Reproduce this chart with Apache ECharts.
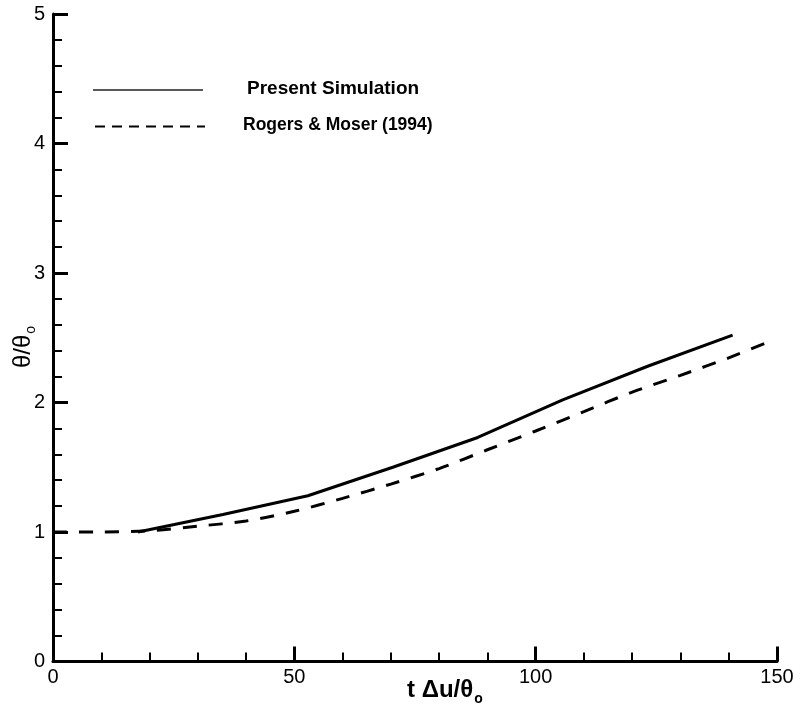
<!DOCTYPE html>
<html>
<head>
<meta charset="utf-8">
<script src="https://cdn.jsdelivr.net/npm/echarts@6/dist/echarts.min.js"></script>
<style>
html,body{margin:0;padding:0;background:#fff;}
#chart{width:800px;height:717px;}
</style>
</head>
<body>
<div id="chart"></div>
<script>
// Present Simulation
const tSim = [17.6, 35.2, 52.8, 70.4, 88.0, 105.6, 123.2, 140.8];
const simVals = [1.0, 1.135, 1.28, 1.50, 1.73, 2.02, 2.28, 2.52];
// Rogers & Moser (1994)
const tRM = [0, 10, 20, 30, 40, 50, 60, 70, 80, 90, 100, 110, 120, 130, 140, 149];
const rmVals = [1.0, 1.0, 1.01, 1.045, 1.085, 1.16, 1.26, 1.37, 1.49, 1.635, 1.78, 1.93, 2.08, 2.21, 2.345, 2.48];
const seriesNames = ['Present Simulation', 'Rogers & Moser (1994)'];
const xTitleMain = 't \u0394u/\u03b8';
const yTitleMain = '\u03b8/\u03b8';
const subText = 'o';

const FONT = 'Liberation Sans, Arial, Helvetica, sans-serif';
const measureCtx = document.createElement('canvas').getContext('2d');
function textWidth(txt, font) { measureCtx.font = font; return measureCtx.measureText(txt).width; }

const xFont = 'bold 24px ' + FONT;
const yFont = '24px ' + FONT;
const xMainW = textWidth(xTitleMain, xFont);
const yMainW = textWidth(yTitleMain, yFont);

const chart = echarts.init(document.getElementById('chart'), null, {renderer: 'canvas'});

const axisCommon = {
  axisLine: {show: true, onZero: false, lineStyle: {color: '#000', width: 3}},
  axisTick: {show: true, inside: true, length: 15, lineStyle: {color: '#000', width: 3}},
  minorTick: {show: true, splitNumber: 5, length: 9, lineStyle: {color: '#000', width: 2}},
  splitLine: {show: false},
  minorSplitLine: {show: false},
  axisLabel: {color: '#000', fontSize: 20, fontFamily: FONT}
};

chart.setOption({
  animation: false,
  backgroundColor: '#fff',
  grid: {left: 53, right: 23, top: 14, bottom: 55.5, containLabel: false},
  xAxis: Object.assign({}, axisCommon, {
    type: 'value', min: 0, max: 150, interval: 50,
    axisLabel: Object.assign({}, axisCommon.axisLabel, {margin: 6})
  }),
  yAxis: Object.assign({}, axisCommon, {
    type: 'value', min: 0, max: 5, interval: 1,
    axisLabel: Object.assign({}, axisCommon.axisLabel, {margin: 8})
  }),
  series: [
    {
      name: seriesNames[0], type: 'line', showSymbol: false, symbol: 'none',
      data: tSim.map((t, i) => [t, simVals[i]]),
      lineStyle: {color: '#000', width: 3}
    },
    {
      name: seriesNames[1], type: 'line', showSymbol: false, symbol: 'none', smooth: 0.3,
      data: tRM.map((t, i) => [t, rmVals[i]]),
      lineStyle: {color: '#000', width: 3, type: [14, 12]}
    }
  ],
  graphic: [
    // legend
    {type: 'line', shape: {x1: 93, y1: 90, x2: 203, y2: 90}, style: {stroke: '#222', lineWidth: 1.3}},
    {type: 'text', left: 247, top: 79, style: {text: seriesNames[0], font: 'bold 19px ' + FONT, fill: '#000'}},
    {type: 'line', shape: {x1: 95, y1: 126.5, x2: 205, y2: 126.5}, style: {stroke: '#000', lineWidth: 2, lineDash: [10, 7]}},
    {type: 'text', left: 243, top: 116, style: {text: seriesNames[1], font: 'bold 17.5px ' + FONT, fill: '#000'}},
    // x axis title
    {type: 'text', x: 407, y: 678, style: {text: xTitleMain, font: xFont, fill: '#000'}},
    {type: 'text', x: 407 + xMainW + 1, y: 692, style: {text: subText, font: 'bold 14px ' + FONT, fill: '#000'}},
    // y axis title (rotated, reads bottom to top)
    {
      type: 'group', x: 11, y: 368, rotation: Math.PI / 2,
      children: [
        {type: 'text', x: 0, y: 0, style: {text: yTitleMain, font: yFont, fill: '#000'}},
        {type: 'text', x: yMainW + 1, y: 13, style: {text: subText, font: '14px ' + FONT, fill: '#000'}}
      ]
    }
  ]
});
</script>
</body>
</html>
